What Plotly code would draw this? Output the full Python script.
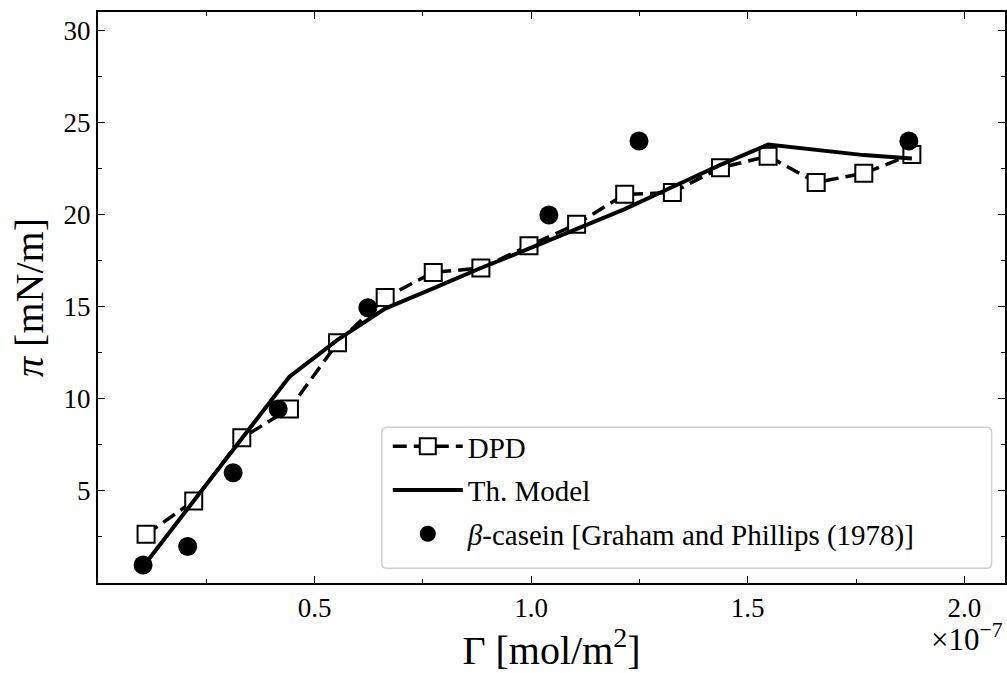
import plotly.graph_objects as go

# Data (x in units of 1e-7 mol/m^2)
dpd_x = [0.111, 0.221, 0.332, 0.442, 0.553, 0.663, 0.774, 0.884, 0.995,
         1.105, 1.216, 1.326, 1.437, 1.547, 1.658, 1.768, 1.879]
dpd_y = [2.64, 4.45, 7.88, 9.45, 13.04, 15.5, 16.86, 17.1, 18.31,
         19.48, 21.1, 21.2, 22.54, 23.17, 21.75, 22.24, 23.27]

model_x = [0.111, 0.221, 0.332, 0.442, 0.553, 0.663, 0.774, 0.884, 0.995,
           1.105, 1.216, 1.326, 1.437, 1.547, 1.658, 1.768, 1.879]
model_y = [1.1, 4.45, 7.84, 11.2, 13.2, 14.9, 16.0, 17.1, 18.15,
           19.2, 20.3, 21.5, 22.7, 23.8, 23.5, 23.23, 23.05]

exp_x = [0.104, 0.207, 0.312, 0.416, 0.623, 1.041, 1.249, 1.872]
exp_y = [0.98, 1.98, 5.99, 9.45, 14.94, 19.98, 24.0, 24.0]

x_ticks = [0.5, 1.0, 1.5, 2.0]
x_ticktext = ["0.5", "1.0", "1.5", "2.0"]
y_ticks = [5, 10, 15, 20, 25, 30]

FONT = "Liberation Serif"

fig = go.Figure()
fig.add_trace(go.Scatter(
    x=dpd_x, y=dpd_y, mode="lines+markers", name="DPD", legendgroup="a",
    line=dict(color="black", width=3.5, dash="14px,7px"),
    marker=dict(symbol="square", size=17, color="white",
                line=dict(color="black", width=2)),
))
fig.add_trace(go.Scatter(
    x=model_x, y=model_y, mode="lines", name="Th. Model", legendgroup="b",
    line=dict(color="black", width=4),
))
fig.add_trace(go.Scatter(
    x=exp_x, y=exp_y, mode="markers", legendgroup="c",
    name="<i>β</i>-casein [Graham and Phillips (1978)]",
    marker=dict(symbol="circle", size=19, color="black"),
))

axis_common = dict(
    showline=True, linecolor="black", linewidth=2, mirror="allticks",
    ticks="inside", ticklen=7, tickwidth=1.3, tickcolor="black",
    showgrid=False, zeroline=False, automargin=False,
    tickfont=dict(family=FONT, size=27, color="black"),
)

fig.update_xaxes(
    range=[0, 2.094], tickmode="array", tickvals=x_ticks, ticktext=x_ticktext,
    minor=dict(ticks="inside", ticklen=4, tickwidth=1.1, tickcolor="black",
               dtick=0.25, tick0=0, showgrid=False),
    title=dict(text="Γ [mol/m<sup>2</sup>]",
               font=dict(family=FONT, size=40, color="black"), standoff=8),
    **axis_common,
)
fig.update_yaxes(
    range=[0, 31], tickmode="array", tickvals=y_ticks,
    minor=dict(ticks="inside", ticklen=4, tickwidth=1.1, tickcolor="black",
               dtick=2.5, tick0=0, showgrid=False),
    title=dict(text="<i>π</i> [mN/m]",
               font=dict(family=FONT, size=40, color="black"), standoff=8),
    **axis_common,
)

fig.add_annotation(
    text="×10<sup>−7</sup>", xref="paper", yref="paper",
    x=1.0, y=-0.058, xanchor="right", yanchor="top", showarrow=False,
    font=dict(family=FONT, size=31, color="black"),
)

# legend frame (rounded, light grey)
bx0, bx1, by0, by1, rr = 0.3128, 0.9853, 0.0257, 0.2727, 0.006
ry = rr * 907 / 571
frame = (f"M{bx0+rr},{by0} L{bx1-rr},{by0} Q{bx1},{by0} {bx1},{by0+ry} "
         f"L{bx1},{by1-ry} Q{bx1},{by1} {bx1-rr},{by1} L{bx0+rr},{by1} "
         f"Q{bx0},{by1} {bx0},{by1-ry} L{bx0},{by0+ry} Q{bx0},{by0} {bx0+rr},{by0} Z")
fig.add_shape(type="path", path=frame, xref="paper", yref="paper",
              line=dict(color="#d0d0d0", width=1.5),
              fillcolor="rgba(255,255,255,0.8)", layer="above")

fig.update_layout(
    width=1007, height=673,
    margin=dict(l=98, r=2, t=12, b=90),
    paper_bgcolor="white", plot_bgcolor="white",
    showlegend=True,
    legend=dict(
        x=0.3195, y=0.2837, xanchor="left", yanchor="top",
        bgcolor="rgba(0,0,0,0)", borderwidth=0,
        font=dict(family=FONT, size=29, color="black"),
        itemwidth=70, tracegroupgap=3,
    ),
)

fig.write_html(
    "out.html",
    config={"displayModeBar": False},
    post_script="document.body.style.margin='0';document.body.style.overflow='hidden';",
)
